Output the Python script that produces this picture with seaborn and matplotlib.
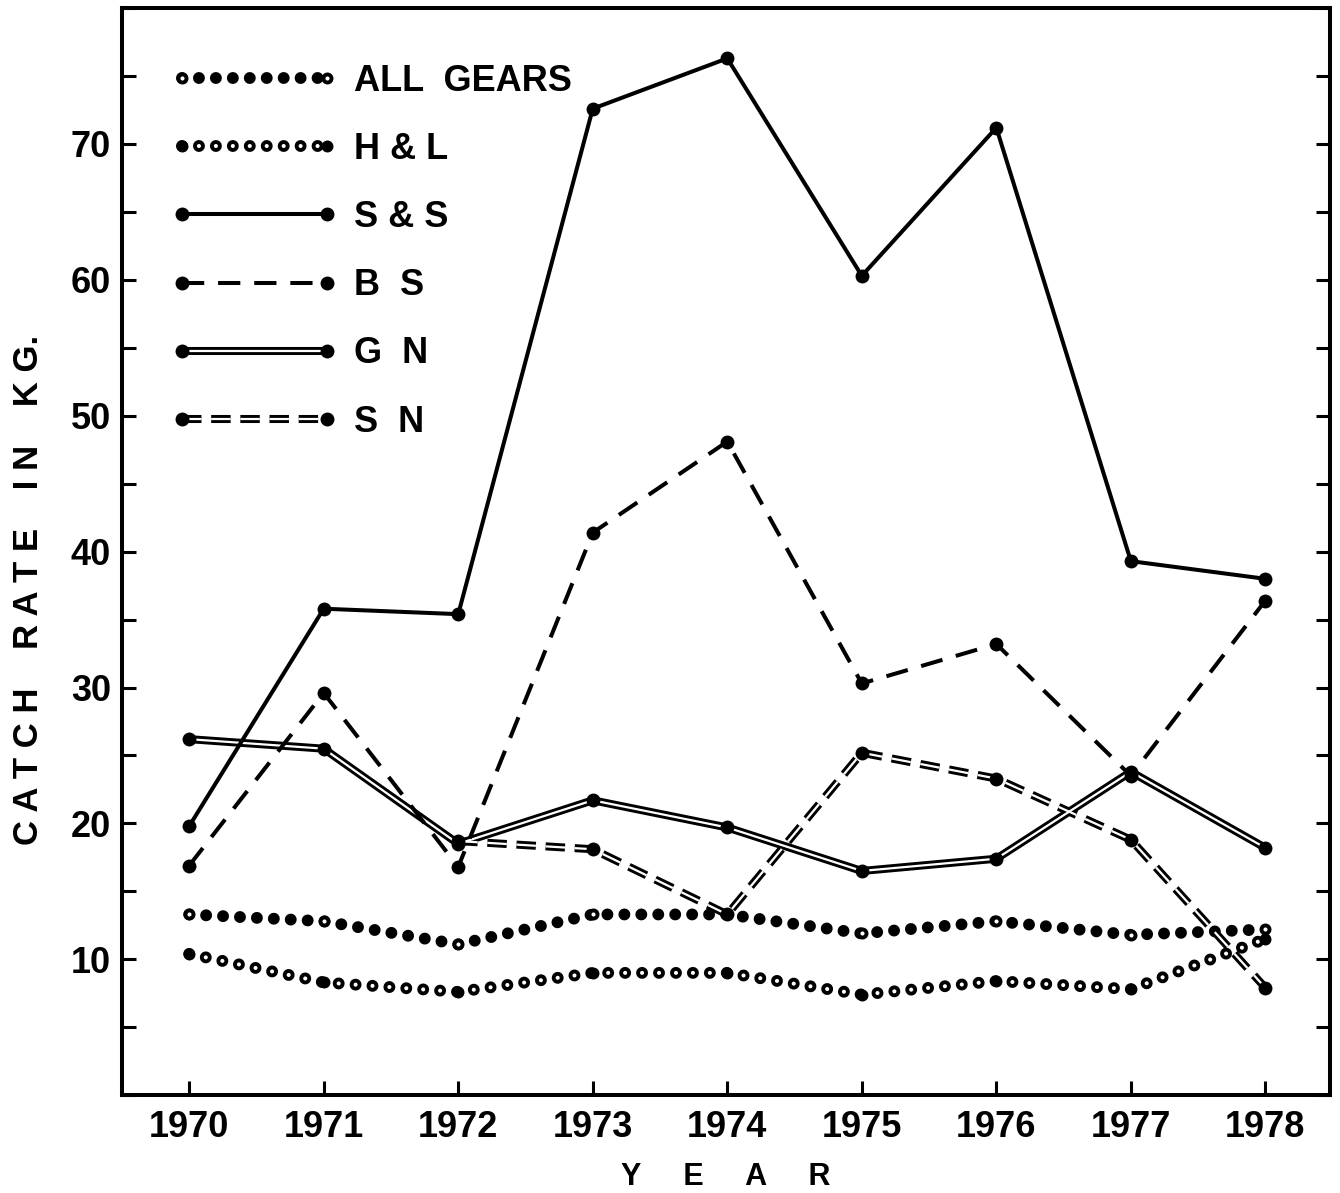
"""Catch rate by gear, 1970-1978, redrawn in the style of the printed figure."""

import matplotlib

matplotlib.use("Agg")
import matplotlib.pyplot as plt
import seaborn as sns
from matplotlib.legend_handler import HandlerLine2D
from matplotlib.lines import Line2D
from matplotlib.ticker import MultipleLocator

YEARS = [1970, 1971, 1972, 1973, 1974, 1975, 1976, 1977, 1978]
ALL_GEARS = [13.3, 12.8, 11.1, 13.3, 13.3, 11.9, 12.8, 11.8, 12.2]
H_AND_L = [10.4, 8.3, 7.6, 9.0, 9.0, 7.4, 8.4, 7.8, 11.5]
S_AND_S = [19.8, 35.8, 35.4, 72.6, 76.3, 60.3, 71.2, 39.3, 38.0]
B_S = [16.9, 29.6, 16.8, 41.4, 48.1, 30.3, 33.2, 23.5, 36.4]
G_N = [26.2, 25.5, 18.5, 21.7, 19.7, 16.5, 17.4, 23.8, 18.2]
SN_YEARS = [1972, 1973, 1974, 1975, 1976, 1977, 1978]
S_N = [18.7, 18.1, 13.3, 25.2, 23.3, 18.8, 7.9]

LEGEND_LABELS = ["ALL  GEARS", "H & L", "S & S", "B  S", "G  N", "S  N"]
YTICKS = [10, 20, 30, 40, 50, 60, 70]

sns.set_style("ticks")
plt.rcParams["font.family"] = ["Liberation Sans", "DejaVu Sans"]
plt.rcParams["font.weight"] = "bold"
plt.rcParams["lines.scale_dashes"] = False
for key in ["text.color", "axes.labelcolor", "xtick.color", "ytick.color",
            "xtick.labelcolor", "ytick.labelcolor"]:
    plt.rcParams[key] = "black"

# line styles (dash lengths in points, not scaled by width)
DOTS = (0, (0.001, 12.2))
black_dots = dict(color="black", lw=8.6, linestyle=DOTS, dash_capstyle="round")
white_dots = dict(color="white", lw=3.0, linestyle=DOTS, dash_capstyle="round")
open_pts = dict(linestyle="none", marker="o", markersize=5.8,
                markerfacecolor="white", markeredgecolor="black",
                markeredgewidth=2.8)
filled_pts = dict(linestyle="none", marker="o", markersize=8.6,
                  color="black", markeredgecolor="black", markeredgewidth=0)
big_pts = dict(linestyle="none", marker="o", markersize=10,
               color="black", markeredgecolor="black", markeredgewidth=0)
thin_solid = dict(color="black", lw=2.9, linestyle="-", solid_capstyle="round")
thin_dash = dict(color="black", lw=2.9, linestyle=(0, (16, 10)))
double_black = dict(color="black", lw=5.8, linestyle="-")
double_white = dict(color="white", lw=1.6, linestyle="-")
dd_black = dict(color="black", lw=5.8, linestyle=(0, (14, 7)))
dd_white = dict(color="white", lw=1.6, linestyle=(0, (14, 7)))


def draw(ax, x, y, style, z):
    sns.lineplot(x=x, y=y, ax=ax, estimator=None, sort=False, zorder=z, **style)


fig = plt.figure(figsize=(13.4, 11.93), dpi=100)
ax = fig.add_axes([0.091, 0.082, 0.9015, 0.9112])

draw(ax, YEARS, ALL_GEARS, black_dots, 2)
draw(ax, YEARS, ALL_GEARS, open_pts, 3)
draw(ax, YEARS, H_AND_L, black_dots, 2)
draw(ax, YEARS, H_AND_L, white_dots, 2.5)
draw(ax, YEARS, H_AND_L, filled_pts, 3)

draw(ax, YEARS, G_N, double_black, 4)
draw(ax, YEARS, G_N, double_white, 4.5)
draw(ax, YEARS, G_N, big_pts, 4.6)
draw(ax, SN_YEARS, S_N, dd_black, 4)
draw(ax, SN_YEARS, S_N, dd_white, 4.5)
draw(ax, SN_YEARS, S_N, big_pts, 4.6)

draw(ax, YEARS, B_S, thin_dash, 5)
draw(ax, YEARS, B_S, big_pts, 5.5)
draw(ax, YEARS, S_AND_S, thin_solid, 6)
draw(ax, YEARS, S_AND_S, big_pts, 6.5)

ax.set_xlim(1969.5, 1978.48)
ax.set_ylim(0, 80)
ax.set_xticks(YEARS)
ax.set_xticklabels([str(y) for y in YEARS])
ax.set_yticks(YTICKS)
ax.yaxis.set_minor_locator(MultipleLocator(5))
ax.tick_params(axis="y", which="both", direction="in", length=10, width=2.2,
               left=True, right=True, labelsize=26, pad=8, colors="black")
ax.tick_params(axis="x", which="both", direction="in", length=10, width=2.2,
               bottom=True, top=False, labelsize=26, pad=11, colors="black")
ax.tick_params(axis="x", which="minor", bottom=False)
for side in ["left", "right", "top", "bottom"]:
    ax.spines[side].set_visible(True)
    ax.spines[side].set_linewidth(2.9)
    ax.spines[side].set_color("black")

ax.set_xlabel("Y     E     A     R", fontsize=22, fontweight="bold", labelpad=12)
ax.set_ylabel("C A T C H    R A T E    I N    K G.", fontsize=25,
              fontweight="bold")
ax.yaxis.set_label_coords(-0.064, 0.465)

handles = [
    (Line2D([], [], **black_dots), Line2D([], [], **open_pts)),
    (Line2D([], [], **black_dots), Line2D([], [], **white_dots),
     Line2D([], [], **filled_pts)),
    Line2D([], [], marker="o", markersize=10, markeredgewidth=0, **thin_solid),
    Line2D([], [], marker="o", markersize=10, markeredgewidth=0, **thin_dash),
    (Line2D([], [], **double_black), Line2D([], [], **double_white),
     Line2D([], [], **big_pts)),
    (Line2D([], [], **dd_black), Line2D([], [], **dd_white),
     Line2D([], [], **big_pts)),
]
ax.legend(handles, LEGEND_LABELS, loc="upper left", bbox_to_anchor=(0.05, 0.949),
          frameon=False, fontsize=26, handlelength=4.0, handletextpad=0.75,
          labelspacing=0.92, borderpad=0, borderaxespad=0, numpoints=2,
          handler_map={Line2D: HandlerLine2D(marker_pad=0)})

fig.savefig("out.png", dpi=100)
